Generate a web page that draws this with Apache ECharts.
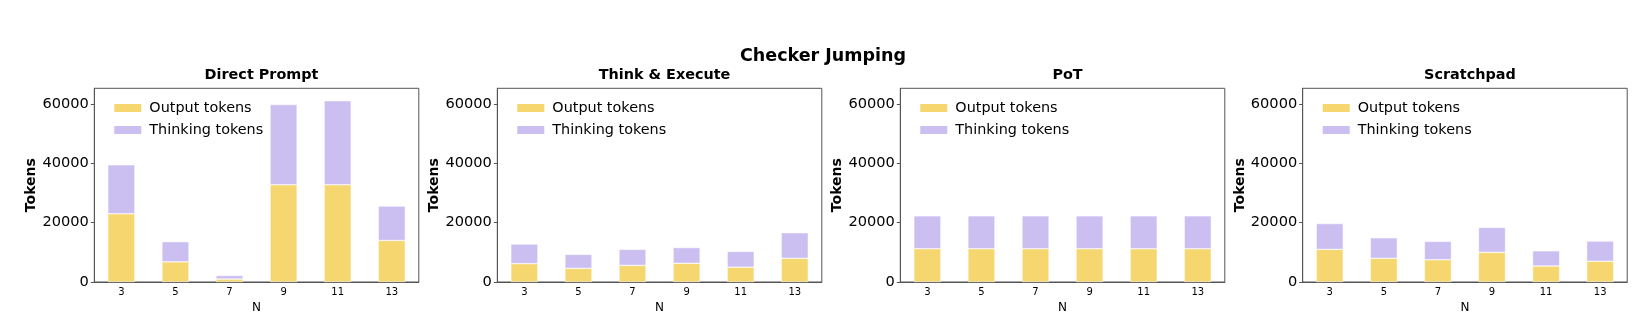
<!DOCTYPE html>
<html lang="en">
<head>
    <meta charset="UTF-8">
    <title>Checker Jumping</title>
    <style>
        * {
            padding: 0;
            margin: 0;
        }

        .EC {
            width: 1636px;
            height: 322px;
            background: #fff;
        }
    </style>
    <script src="https://cdn.jsdelivr.net/npm/echarts@6.0.0/dist/echarts.min.js"></script>
</head>
<body>
<div class="EC"></div>
<script>
    // data
    const categories = ['3', '5', '7', '9', '11', '13']
    const panelTitles = ['Direct Prompt', 'Think & Execute', 'PoT', 'Scratchpad']
    const yTicks = [0, 20000, 40000, 60000]

    const directOutput = [23000, 6800, 1000, 32800, 32800, 14000]
    const directThinking = [16500, 6800, 1200, 27000, 28300, 11600]
    const teOutput = [6200, 4600, 5600, 6300, 5000, 8000]
    const teThinking = [6600, 4700, 5400, 5300, 5300, 8600]
    const potOutput = [11200, 11200, 11200, 11200, 11200, 11200]
    const potThinking = [11100, 11100, 11100, 11100, 11100, 11100]
    const spOutput = [11000, 8000, 7500, 10000, 5400, 7000]
    const spThinking = [8700, 6900, 6200, 8400, 5100, 6800]

    const outputs = [directOutput, teOutput, potOutput, spOutput]
    const thinkings = [directThinking, teThinking, potThinking, spThinking]

    window.onload = () => {
        let EC = echarts.init(document.querySelector('.EC'), null, {renderer: 'canvas'})

        const lefts = [94.3, 497.3, 900.3, 1302.7]
        const gridW = 324.5
        const gridTop = 88.3
        const gridH = 193.7
        const yMax = 65300
        const axisColor = '#555'
        const font = 'DejaVu Sans'

        let titles = [{
            text: 'Checker Jumping',
            left: 818,
            textAlign: 'center',
            top: 42,
            textStyle: {fontFamily: font, fontSize: 17.5, fontWeight: 'bold', color: '#000'}
        }]
        let grids = [], xAxes = [], yAxes = [], legends = [], series = []

        lefts.forEach((left, i) => {
            titles.push({
                text: panelTitles[i],
                left: left + gridW / 2,
                textAlign: 'center',
                top: 63,
                textStyle: {fontFamily: font, fontSize: 14.4, fontWeight: 'bold', color: '#000'}
            })
            grids.push({
                left: left,
                top: gridTop,
                width: gridW,
                height: gridH,
                show: true,
                borderColor: axisColor,
                borderWidth: 1,
                backgroundColor: 'transparent'
            })
            xAxes.push({
                type: 'category',
                gridIndex: i,
                data: categories,
                name: 'N',
                nameLocation: 'middle',
                nameGap: 14,
                nameTextStyle: {fontFamily: font, fontSize: 12, color: '#000'},
                axisLine: {lineStyle: {color: axisColor, width: 1}},
                axisTick: {alignWithLabel: true, length: 3.5, lineStyle: {color: axisColor}},
                axisLabel: {fontFamily: font, fontSize: 10, color: '#000', margin: 5}
            })
            yAxes.push({
                type: 'value',
                gridIndex: i,
                min: 0,
                max: yMax,
                interval: 20000,
                name: 'Tokens',
                nameLocation: 'middle',
                nameGap: 42,
                nameTextStyle: {fontFamily: font, fontSize: 14, fontWeight: 'bold', color: '#000'},
                splitLine: {show: false},
                axisLine: {show: true, lineStyle: {color: axisColor, width: 1}},
                axisTick: {show: true, length: 3.5, customValues: yTicks, lineStyle: {color: axisColor}},
                axisLabel: {
                    fontFamily: font, fontSize: 14.6, color: '#000', margin: 5.5, customValues: yTicks,
                    formatter: v => String(v)
                }
            })
            legends.push({
                orient: 'vertical',
                left: left + 13,
                top: 95,
                icon: 'rect',
                itemWidth: 29,
                itemHeight: 10,
                itemGap: 6,
                selectedMode: false,
                data: ['Output tokens', 'Thinking tokens'],
                textStyle: {fontFamily: font, fontSize: 14.4, color: '#000', lineHeight: 16, padding: [0, 0, 0, 2]}
            })
            series.push({
                name: 'Output tokens',
                type: 'bar',
                stack: 'p' + i,
                xAxisIndex: i,
                yAxisIndex: i,
                barWidth: '50%',
                data: outputs[i],
                itemStyle: {color: '#F5D66F', borderColor: '#fff', borderWidth: 0.5}
            })
            series.push({
                name: 'Thinking tokens',
                type: 'bar',
                stack: 'p' + i,
                xAxisIndex: i,
                yAxisIndex: i,
                barWidth: '50%',
                data: thinkings[i],
                itemStyle: {color: '#CBBEF1', borderColor: '#fff', borderWidth: 0.5}
            })
        })

        EC.setOption({
            animation: false,
            backgroundColor: '#fff',
            title: titles,
            grid: grids,
            xAxis: xAxes,
            yAxis: yAxes,
            legend: legends,
            series: series
        })
    }
</script>
</body>
</html>
